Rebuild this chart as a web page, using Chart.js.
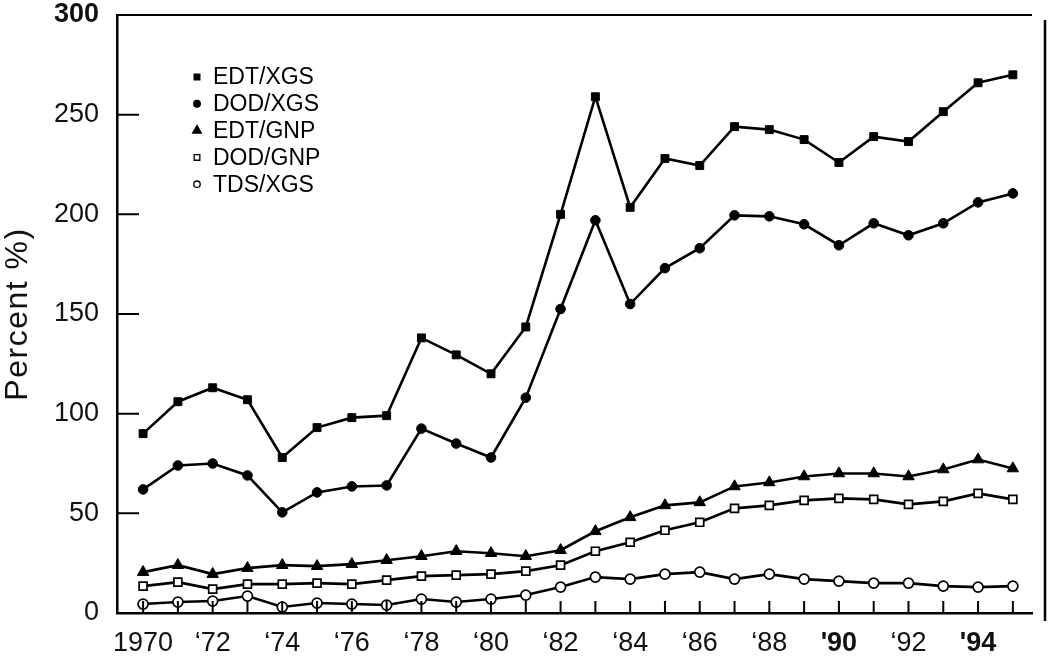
<!DOCTYPE html>
<html>
<head>
<meta charset="utf-8">
<script src="https://cdn.jsdelivr.net/npm/chart.js@4.4.1/dist/chart.umd.min.js"></script>
<style>
  html, body { margin: 0; padding: 0; background: #fff; }
  #wrap { width: 1049px; height: 659px; }
</style>
</head>
<body>
<div id="wrap"><canvas id="chart"></canvas></div>
<script>
// debt indicators, percent
const years = [1970, 1971, 1972, 1973, 1974, 1975, 1976, 1977, 1978, 1979, 1980, 1981, 1982,
  1983, 1984, 1985, 1986, 1987, 1988, 1989, 1990, 1991, 1992, 1993, 1994, 1995];
const edtXgs = [90, 106, 113, 107, 78, 93, 98, 99, 138, 129.5, 120, 143.5, 200,
  259, 203.5, 228, 224.5, 244, 242.5, 237.5, 226, 239, 236.5, 251.5, 266, 270];
const dodXgs = [62, 74, 75, 69, 50.5, 60.5, 63.5, 64, 92.5, 85, 78, 108, 152.5,
  197, 155, 173, 183, 199.5, 199, 195, 184.5, 195.5, 189.5, 195.5, 206, 210.5];
const edtGnp = [20.5, 24, 19.5, 22.5, 24, 23.5, 24.5, 26.5, 28.5, 31, 30, 28.5, 31.5,
  41, 48, 54, 55.5, 63.5, 65.5, 68.5, 70, 70, 68.5, 72, 77, 72.5];
const dodGnp = [13.5, 15.5, 12, 14.5, 14.5, 15, 14.5, 16.5, 18.5, 19, 19.5, 21, 24,
  31, 35.5, 41.5, 45.5, 52.5, 54, 56.5, 57.5, 57, 54.5, 56, 60, 57];
const tdsXgs = [4.5, 5.5, 6, 8.5, 3, 5, 4.5, 4, 7, 5.5, 7, 9, 13,
  18, 17, 19.5, 20.5, 17, 19.5, 17, 16, 15, 15, 13.5, 13, 13.5];
const yTicks = [0, 50, 100, 150, 200, 250, 300];
const yTitle = 'Percent %)';

const FONT = '"Liberation Sans", Arial, Helvetica, sans-serif';
const boldYears = [1990, 1994];

const toXY = (vals) => vals.map((v, i) => ({ x: years[i], y: v }));

function series(label, vals, style, radius, filled, legendRadius) {
  return {
    label,
    data: toXY(vals),
    borderColor: '#000',
    borderWidth: 2.6,
    pointStyle: style,
    pointRadius: radius,
    pointBorderWidth: filled ? 1 : 1.7,
    pointBorderColor: '#000',
    pointBackgroundColor: filled ? '#000' : '#fff',
    legendRadius,
    legendFilled: filled,
    tension: 0,
    fill: false,
  };
}

// inward ticks, top edge, page edge line, axis title and the inset legend
const framePlugin = {
  id: 'frame',
  afterDatasetsDraw(chart) {
    const { ctx, chartArea: a, scales } = chart;
    ctx.save();
    ctx.strokeStyle = '#000';
    ctx.lineWidth = 2;
    ctx.beginPath();
    ctx.moveTo(a.left, a.top);
    ctx.lineTo(a.right, a.top);
    scales.y.ticks.forEach((t) => {
      const py = scales.y.getPixelForValue(t.value);
      ctx.moveTo(a.left, py);
      ctx.lineTo(a.left + 22, py);
    });
    scales.x.ticks.forEach((t) => {
      const px = scales.x.getPixelForValue(t.value);
      ctx.moveTo(px, a.bottom);
      ctx.lineTo(px, a.bottom - 12);
    });
    ctx.stroke();

    ctx.lineWidth = 2.5;
    ctx.beginPath();
    ctx.moveTo(a.right + 13, a.top + 5);
    ctx.lineTo(a.right + 13, a.bottom + 8);
    ctx.stroke();

    // y title
    ctx.save();
    ctx.translate(18, (a.top + a.bottom) / 2);
    ctx.rotate(-Math.PI / 2);
    ctx.font = `32px ${FONT}`;
    ctx.letterSpacing = '1.5px';
    ctx.textAlign = 'center';
    ctx.textBaseline = 'middle';
    ctx.fillStyle = '#111';
    ctx.fillText(yTitle, 0, 0);
    ctx.restore();

    // legend
    ctx.font = `23px ${FONT}`;
    ctx.textBaseline = 'middle';
    ctx.textAlign = 'left';
    chart.data.datasets.forEach((ds, i) => {
      const lx = a.left + 80;
      const ly = a.top + 62 + i * 26.8;
      ctx.fillStyle = ds.legendFilled ? '#000' : '#fff';
      ctx.strokeStyle = '#000';
      ctx.lineWidth = 1.3;
      Chart.helpers.drawPoint(ctx, {
        pointStyle: ds.pointStyle, radius: ds.legendRadius, rotation: 0, borderWidth: 1.3,
      }, lx, ly);
      ctx.fillStyle = '#000';
      ctx.fillText(ds.label, lx + 16, ly + 1);
    });
    ctx.restore();
  },
};

new Chart(document.getElementById('chart'), {
  type: 'line',
  data: {
    datasets: [
      series('EDT/XGS', edtXgs, 'rect', 5.6, true, 4),
      series('DOD/XGS', dodXgs, 'circle', 4.8, true, 3.3),
      series('EDT/GNP', edtGnp, 'triangle', 6.6, true, 5),
      series('DOD/GNP', dodGnp, 'rect', 5.6, false, 4),
      series('TDS/XGS', tdsXgs, 'circle', 5, false, 3.2),
    ],
  },
  options: {
    responsive: true,
    maintainAspectRatio: false,
    animation: false,
    layout: { padding: { top: 15, right: 17, bottom: 0, left: 0 } },
    plugins: { legend: { display: false }, tooltip: { enabled: false } },
    scales: {
      x: {
        type: 'linear',
        min: 1969.25,
        max: 1995.55,
        afterBuildTicks: (s) => { s.ticks = years.map((v) => ({ value: v })); },
        afterFit: (s) => { s.height = 46; s.paddingLeft = 0; s.paddingRight = 0; },
        grid: { drawOnChartArea: false, drawTicks: false },
        border: { color: '#000', width: 2.5 },
        ticks: {
          autoSkip: false,
          maxRotation: 0,
          padding: 14,
          color: '#111',
          font: (c) => ({
            family: FONT, size: 27,
            weight: c.tick && boldYears.includes(c.tick.value) ? 'bold' : 'normal',
          }),
          callback: (v) => {
            if (v === 1970) return '1970';
            if (v % 2) return '';
            const short = String(v).slice(2);
            return boldYears.includes(v) ? "'" + short : '\u2018' + short;
          },
        },
      },
      y: {
        min: 0,
        max: 300,
        afterBuildTicks: (s) => { s.ticks = yTicks.map((v) => ({ value: v })); },
        afterFit: (s) => { s.width = 117; s.paddingTop = 0; s.paddingBottom = 0; },
        grid: { drawOnChartArea: false, drawTicks: false },
        border: { color: '#000', width: 2.5 },
        ticks: {
          padding: 18,
          color: '#111',
          font: (c) => ({
            family: FONT, size: 27,
            weight: c.tick && c.tick.value === 300 ? 'bold' : 'normal',
          }),
        },
      },
    },
  },
  plugins: [framePlugin],
});
</script>
</body>
</html>
